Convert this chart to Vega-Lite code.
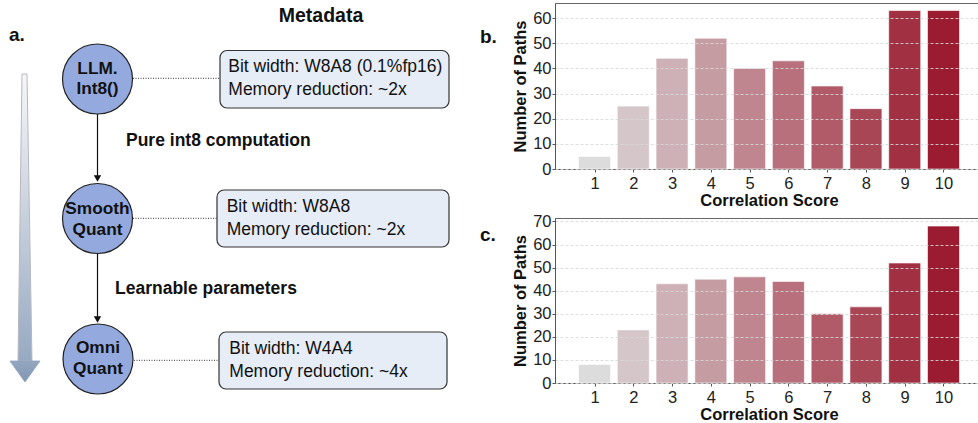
{
  "$schema": "https://vega.github.io/schema/vega-lite/v6.json",
  "padding": {"left": 0, "top": 2, "right": 0, "bottom": 0},
  "background": "white",
  "bounds": "flush",
  "spacing": 0,
  "config": {
    "font": "Liberation Sans",
    "view": {"stroke": "#666666"},
    "axis": {
      "labelFont": "Liberation Sans",
      "titleFont": "Liberation Sans",
      "labelFontSize": 16.5,
      "titleFontSize": 16.5,
      "titleFontWeight": "bold",
      "labelColor": "#222222",
      "titleColor": "#111111",
      "domainColor": "#555555",
      "tickColor": "#555555",
      "tickSize": 3
    }
  },
  "hconcat": [
    {
      "width": 555,
      "height": 421,
      "view": {"stroke": null},
      "encoding": {
        "x": {"field": "px", "type": "quantitative", "scale": {"domain": [0, 555], "nice": false, "zero": false}, "axis": null},
        "y": {"field": "py", "type": "quantitative", "scale": {"domain": [2, 423], "reverse": true, "nice": false, "zero": false}, "axis": null}
      },
      "layer": [
        {
          "data": {"values": [{"py": 73, "px": 22, "px2": 27}, {"py": 360, "px": 18, "px2": 32}]},
          "mark": {"type": "area", "orient": "horizontal", "fill": {"gradient": "linear", "x1": 0, "y1": 0, "x2": 0, "y2": 1, "stops": [{"offset": 0, "color": "#f7f7f9"}, {"offset": 1, "color": "#97a9c2"}]}, "stroke": "#b8b8bc", "strokeWidth": 1},
          "encoding": {"x2": {"field": "px2"}}
        },
        {
          "data": {"values": [{"py": 360, "px": 10, "px2": 40}, {"py": 381, "px": 25, "px2": 25}]},
          "mark": {"type": "area", "orient": "horizontal", "fill": {"gradient": "linear", "x1": 0, "y1": 0, "x2": 0, "y2": 1, "stops": [{"offset": 0, "color": "#94a7c1"}, {"offset": 1, "color": "#8196b3"}]}, "stroke": "#8ea1bb", "strokeWidth": 0.8},
          "encoding": {"x2": {"field": "px2"}}
        },
        {
          "data": {"values": [{"px": 97.5, "py": 113, "px2": 97.5, "py2": 176}, {"px": 97.5, "py": 253, "px2": 97.5, "py2": 317}]},
          "mark": {"type": "rule", "color": "#111111", "strokeWidth": 1.2},
          "encoding": {"x2": {"field": "px2"}, "y2": {"field": "py2"}}
        },
        {
          "data": {"values": [{"px": 97.5, "py": 177.5}, {"px": 97.5, "py": 318.5}]},
          "mark": {"type": "point", "shape": "triangle-down", "filled": true, "color": "#111111", "size": 55, "opacity": 1}
        },
        {
          "data": {"values": [{"px": 133, "py": 77.3, "px2": 220, "py2": 77.3}, {"px": 133, "py": 217.3, "px2": 217, "py2": 217.3}, {"px": 134, "py": 359.3, "px2": 219, "py2": 359.3}]},
          "mark": {"type": "rule", "color": "#333333", "strokeWidth": 1, "strokeDash": [1, 1.5]},
          "encoding": {"x2": {"field": "px2"}, "y2": {"field": "py2"}}
        },
        {
          "data": {"values": [{"px": 97.5, "py": 78}, {"px": 97.5, "py": 217.5}, {"px": 98, "py": 358}]},
          "mark": {"type": "point", "shape": "circle", "filled": true, "fill": "#94aadf", "stroke": "#222222", "strokeWidth": 1.2, "size": 4900, "opacity": 1}
        },
        {
          "data": {"values": [{"px": 220, "px2": 449, "py": 49.5, "py2": 107}, {"px": 217, "px2": 449, "py": 189, "py2": 246}, {"px": 219, "px2": 447, "py": 331, "py2": 388}]},
          "mark": {"type": "rect", "cornerRadius": 7, "fill": "#e7edf7", "stroke": "#333333", "strokeWidth": 1.2},
          "encoding": {"x2": {"field": "px2"}, "y2": {"field": "py2"}}
        },
        {
          "data": {"values": [
            {"px": 97.5, "py": 67.5, "t": "LLM."},
            {"px": 97.5, "py": 87.5, "t": "Int8()"},
            {"px": 97.5, "py": 208, "t": "Smooth"},
            {"px": 97.5, "py": 229, "t": "Quant"},
            {"px": 98, "py": 347, "t": "Omni"},
            {"px": 98, "py": 368, "t": "Quant"}
          ]},
          "mark": {"type": "text", "font": "Liberation Sans", "fontWeight": "bold", "fontSize": 17.3, "align": "center", "baseline": "middle", "color": "#111111"},
          "encoding": {"text": {"field": "t"}}
        },
        {
          "data": {"values": [
            {"px": 228.3, "py": 66, "t": "Bit width: W8A8 (0.1%fp16)"},
            {"px": 228.3, "py": 89, "t": "Memory reduction: ~2x"},
            {"px": 226.7, "py": 206, "t": "Bit width: W8A8"},
            {"px": 226.7, "py": 229, "t": "Memory reduction: ~2x"},
            {"px": 229.3, "py": 348.3, "t": "Bit width: W4A4"},
            {"px": 229.3, "py": 371, "t": "Memory reduction: ~4x"}
          ]},
          "mark": {"type": "text", "font": "Liberation Sans", "fontSize": 17.5, "align": "left", "baseline": "middle", "color": "#111111"},
          "encoding": {"text": {"field": "t"}}
        },
        {
          "data": {"values": [
            {"px": 126, "py": 140, "t": "Pure int8 computation"},
            {"px": 115, "py": 288.3, "t": "Learnable parameters"}
          ]},
          "mark": {"type": "text", "font": "Liberation Sans", "fontWeight": "bold", "fontSize": 17.5, "align": "left", "baseline": "middle", "color": "#111111"},
          "encoding": {"text": {"field": "t"}}
        },
        {
          "data": {"values": [{"px": 321, "py": 15, "t": "Metadata"}]},
          "mark": {"type": "text", "font": "Liberation Sans", "fontWeight": "bold", "fontSize": 19.5, "align": "center", "baseline": "middle", "color": "#111111"},
          "encoding": {"text": {"field": "t"}}
        },
        {
          "data": {"values": [
            {"px": 9, "py": 39.5, "t": "a."},
            {"px": 480, "py": 41.5, "t": "b."},
            {"px": 480, "py": 240, "t": "c."}
          ]},
          "mark": {"type": "text", "font": "Liberation Sans", "fontWeight": "bold", "fontSize": 19, "align": "left", "baseline": "alphabetic", "color": "#111111"},
          "encoding": {"text": {"field": "t"}}
        }
      ]
    },
    {
      "bounds": "flush",
      "spacing": 49,
      "vconcat": [
        {
          "width": 428,
          "height": 166,
          "data": {"values": [
            {"score": 1, "paths": 5}, {"score": 2, "paths": 25}, {"score": 3, "paths": 44}, {"score": 4, "paths": 52}, {"score": 5, "paths": 40},
            {"score": 6, "paths": 43}, {"score": 7, "paths": 33}, {"score": 8, "paths": 24}, {"score": 9, "paths": 63}, {"score": 10, "paths": 63}
          ]},
          "mark": {"type": "bar", "size": 32, "stroke": "white", "strokeWidth": 1, "strokeOpacity": 0.6},
          "encoding": {
            "x": {"field": "score", "type": "quantitative", "scale": {"domain": [0.11, 10.89], "nice": false, "zero": false},
                  "axis": {"values": [1, 2, 3, 4, 5, 6, 7, 8, 9, 10], "title": "Correlation Score", "grid": false, "labelPadding": 3, "titlePadding": 1, "format": "d"}},
            "y": {"field": "paths", "type": "quantitative", "scale": {"domain": [0, 66], "nice": false},
                  "axis": {"values": [0, 10, 20, 30, 40, 50, 60], "title": "Number of Paths", "grid": true, "gridColor": "#d8d8d8", "gridDash": [3, 2], "gridOpacity": 0.85, "labelPadding": 1, "titlePadding": 4, "zindex": 1}},
            "color": {"field": "score", "type": "quantitative", "scale": {"domain": [1, 10], "range": ["#dcdcdc", "#9b1b30"], "interpolate": "rgb"}, "legend": null}
          }
        },
        {
          "width": 428,
          "height": 165,
          "data": {"values": [
            {"score": 1, "paths": 8}, {"score": 2, "paths": 23}, {"score": 3, "paths": 43}, {"score": 4, "paths": 45}, {"score": 5, "paths": 46},
            {"score": 6, "paths": 44}, {"score": 7, "paths": 30}, {"score": 8, "paths": 33}, {"score": 9, "paths": 52}, {"score": 10, "paths": 68}
          ]},
          "mark": {"type": "bar", "size": 32, "stroke": "white", "strokeWidth": 1, "strokeOpacity": 0.6},
          "encoding": {
            "x": {"field": "score", "type": "quantitative", "scale": {"domain": [0.11, 10.89], "nice": false, "zero": false},
                  "axis": {"values": [1, 2, 3, 4, 5, 6, 7, 8, 9, 10], "title": "Correlation Score", "grid": false, "labelPadding": 3, "titlePadding": 1, "format": "d"}},
            "y": {"field": "paths", "type": "quantitative", "scale": {"domain": [0, 71.5], "nice": false},
                  "axis": {"values": [0, 10, 20, 30, 40, 50, 60, 70], "title": "Number of Paths", "grid": true, "gridColor": "#d8d8d8", "gridDash": [3, 2], "gridOpacity": 0.85, "labelPadding": 1, "titlePadding": 4, "zindex": 1}},
            "color": {"field": "score", "type": "quantitative", "scale": {"domain": [1, 10], "range": ["#dcdcdc", "#9b1b30"], "interpolate": "rgb"}, "legend": null}
          }
        }
      ]
    }
  ]
}
